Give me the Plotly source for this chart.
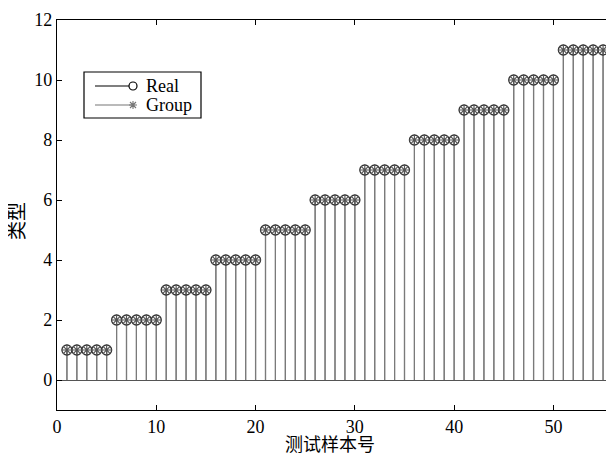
import plotly.graph_objects as go

samples = list(range(1, 56))
real = [1]*5 + [2]*5 + [3]*5 + [4]*5 + [5]*5 + [6]*5 + [7]*5 + [8]*5 + [9]*5 + [10]*5 + [11]*5
group = [1]*5 + [2]*5 + [3]*5 + [4]*5 + [5]*5 + [6]*5 + [7]*5 + [8]*5 + [9]*5 + [10]*5 + [11]*5
xticks = [0, 10, 20, 30, 40, 50]
yticks = [0, 2, 4, 6, 8, 10, 12]
series_names = ["Real", "Group"]

FONT = "Liberation Serif"
CJK = "Liberation Serif, Noto Sans CJK SC"

def stems(xs, ys):
    sx, sy = [], []
    for x, y in zip(xs, ys):
        sx += [x, x, None]
        sy += [0, y, None]
    return sx, sy

fig = go.Figure()
gx, gy = stems(samples, group)
fig.add_trace(go.Scatter(x=gx, y=gy, mode="lines", line=dict(color="#7a7a7a", width=1.2),
                         showlegend=False, hoverinfo="skip"))
rx, ry = stems(samples, real)
fig.add_trace(go.Scatter(x=rx, y=ry, mode="lines", line=dict(color="#7a7a7a", width=1.2),
                         showlegend=False, hoverinfo="skip"))
fig.add_trace(go.Scatter(x=samples, y=real, mode="markers", name="Real", showlegend=False,
                         marker=dict(symbol="circle-open", size=10, color="#333333",
                                     line=dict(width=1.3, color="#333333"))))
fig.add_trace(go.Scatter(x=samples, y=group, mode="markers", name="Group", showlegend=False,
                         marker=dict(symbol="asterisk-open", size=9, color="#555555",
                                     line=dict(width=1.2, color="#555555"))))

# The page body has an 8px margin, so the figure is drawn 8px smaller,
# and page-pixel positions below are converted accordingly.
OFF = 8
W, H = 614 - OFF, 456 - OFF
L, T, B, R = 57 - OFF, 20 - OFF, 46, 1
pw, ph = W - L - R, H - T - B
def px(x):  # page pixel x -> paper
    return (x - OFF - L) / pw
def py(y):  # page pixel y -> paper
    return (H - B - (y - OFF)) / ph

ROW1, ROW2 = 86, 105
shapes = [
    dict(type="rect", xref="paper", yref="paper", x0=px(84), x1=px(201), y0=py(118), y1=py(72),
         line=dict(color="black", width=1.2), fillcolor="white", layer="above"),
    dict(type="line", xref="paper", yref="paper", x0=px(95), x1=px(129), y0=py(ROW1), y1=py(ROW1),
         line=dict(color="black", width=1.2)),
    dict(type="circle", xref="paper", yref="paper", xsizemode="pixel", ysizemode="pixel",
         xanchor=px(133), yanchor=py(ROW1), x0=-4, x1=4, y0=-4, y1=4,
         line=dict(color="black", width=1.2)),
    dict(type="line", xref="paper", yref="paper", x0=px(95), x1=px(133), y0=py(ROW2), y1=py(ROW2),
         line=dict(color="#777777", width=1.2)),
    dict(type="path", xref="paper", yref="paper", xsizemode="pixel", ysizemode="pixel",
         xanchor=px(133), yanchor=py(ROW2),
         path="M-4,0 L4,0 M0,-4 L0,4 M-3,-3 L3,3 M-3,3 L3,-3",
         line=dict(color="#777777", width=1.1)),
]
annotations = [
    dict(text=series_names[0], xref="paper", yref="paper", x=px(144), y=py(ROW1),
         xanchor="left", yanchor="middle", showarrow=False, font=dict(family=FONT, size=18)),
    dict(text=series_names[1], xref="paper", yref="paper", x=px(144), y=py(ROW2),
         xanchor="left", yanchor="middle", showarrow=False, font=dict(family=FONT, size=18)),
    dict(text="测试样本号", xref="paper", yref="paper", x=px(330), y=py(445),
         xanchor="center", yanchor="middle", showarrow=False, font=dict(family=CJK, size=18)),
    dict(text="类型", xref="paper", yref="paper", x=px(18), y=py(221), textangle=-90,
         xanchor="center", yanchor="middle", showarrow=False, font=dict(family=CJK, size=19)),
]

fig.update_layout(
    width=W, height=H,
    margin=dict(l=L, r=R, t=T, b=B),
    paper_bgcolor="white", plot_bgcolor="white",
    font=dict(family=FONT, size=18, color="black"),
    showlegend=False,
    shapes=shapes, annotations=annotations,
)
fig.update_xaxes(range=[0, 56], tickvals=xticks, ticks="inside", ticklen=5,
                 tickcolor="black", showline=True, linecolor="black", linewidth=1.3,
                 mirror="ticks", showgrid=False, zeroline=False, automargin=False,
                 tickfont=dict(family=FONT, size=18))
fig.update_yaxes(range=[-1, 12], tickvals=yticks, ticks="inside", ticklen=5,
                 tickcolor="black", showline=True, linecolor="black", linewidth=1.3,
                 mirror="ticks", showgrid=False, zeroline=True, zerolinecolor="#555555",
                 zerolinewidth=1.3, automargin=False,
                 tickfont=dict(family=FONT, size=18))

fig.write_html("out.html")
